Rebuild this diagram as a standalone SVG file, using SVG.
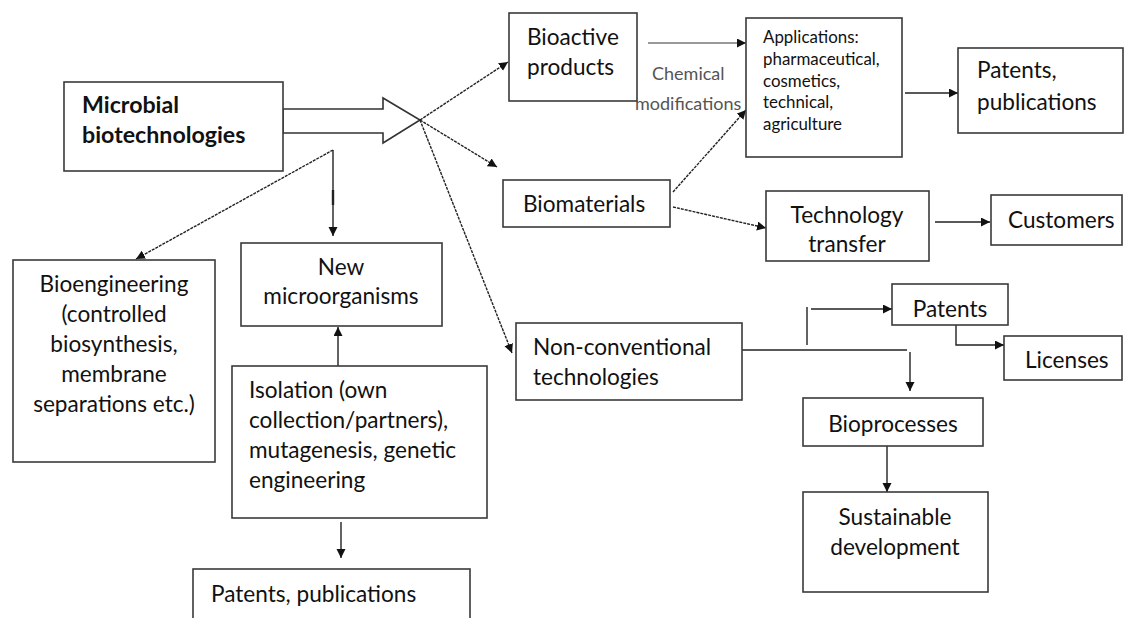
<svg xmlns="http://www.w3.org/2000/svg" width="1124" height="618" viewBox="0 0 1124 618">
  <style>
    .box { fill: #ffffff; stroke: #3a3a3a; stroke-width: 1.6; }
    .t { font-family: Lato, "Open Sans", "Liberation Sans", sans-serif; font-size: 22.6px; fill: #111; }
    .tb { font-weight: bold; font-size: 23.2px; }
    .sm { font-size: 16.9px; }
    .lab { font-size: 18px; fill: #555; }
    .c { text-anchor: middle; }
    .ln { fill: none; stroke: #222; stroke-width: 1.4; }
    .dash { stroke-dasharray: 3 1; }
    .grey { stroke: #777; }
  </style>
  <defs>
    <marker id="ah" markerUnits="userSpaceOnUse" markerWidth="10" markerHeight="10" refX="9" refY="4.5" orient="auto">
      <path d="M0,0 L9,4.5 L0,9 z" fill="#111"/>
    </marker>
  </defs>

  <!-- connectors -->
  <g id="connectors">
    <polygon points="283,109 383,109 383,98 420,120 383,143 383,133 283,133" fill="#fff" stroke="#333" stroke-width="1.6"/>
    <line class="ln dash" x1="420" y1="120" x2="508" y2="62" marker-end="url(#ah)"/>
    <line class="ln dash" x1="420" y1="120" x2="497" y2="167" marker-end="url(#ah)"/>
    <line class="ln dash" x1="420" y1="120" x2="512" y2="353" marker-end="url(#ah)"/>
    <line class="ln dash" x1="333" y1="150" x2="136" y2="259" marker-end="url(#ah)"/>
    <line class="ln" x1="333" y1="150" x2="333" y2="236" marker-end="url(#ah)"/>
    <line x1="333" y1="190" x2="333" y2="205" stroke="#222" stroke-width="2.4"/>
    <line class="ln" x1="338" y1="366" x2="338" y2="327" marker-end="url(#ah)"/>
    <line class="ln" x1="341" y1="522" x2="341" y2="558" marker-end="url(#ah)"/>
    <line class="ln grey" x1="648" y1="43" x2="746" y2="43" marker-end="url(#ah)"/>
    <line class="ln dash" x1="673" y1="192" x2="746" y2="110" marker-end="url(#ah)"/>
    <line class="ln" x1="905" y1="93" x2="958" y2="93" marker-end="url(#ah)"/>
    <line class="ln dash" x1="673" y1="207" x2="766" y2="228" marker-end="url(#ah)"/>
    <line class="ln" x1="935" y1="222" x2="990" y2="222" marker-end="url(#ah)"/>
    <line class="ln" x1="742" y1="350" x2="907" y2="350"/>
    <line class="ln" x1="910" y1="352" x2="910" y2="391" marker-end="url(#ah)"/>
    <line class="ln" x1="807" y1="345" x2="807" y2="307"/>
    <line class="ln" x1="811" y1="309" x2="892" y2="309" marker-end="url(#ah)"/>
    <polyline class="ln" points="956,325 956,345 1004,345" marker-end="url(#ah)"/>
    <line class="ln" x1="887" y1="446" x2="887" y2="492" marker-end="url(#ah)"/>
    <text class="t lab" x="652" y="80">Chemical</text>
    <text class="t lab" x="635" y="110">modifications</text>
  </g>

  <g id="microbial">
    <rect class="box" x="64" y="82" width="219" height="89"/>
    <text class="t tb" x="82" y="113">Microbial</text>
    <text class="t tb" x="82" y="143">biotechnologies</text>
  </g>

  <g id="bioactive">
    <rect class="box" x="509" y="13" width="128" height="88"/>
    <text class="t" x="527" y="45">Bioactive</text>
    <text class="t" x="527" y="75">products</text>
  </g>

  <g id="applications">
    <rect class="box" x="746" y="18" width="156" height="139"/>
    <text class="t sm" x="763" y="43">Applications:</text>
    <text class="t sm" x="763" y="65">pharmaceutical,</text>
    <text class="t sm" x="763" y="87">cosmetics,</text>
    <text class="t sm" x="763" y="108">technical,</text>
    <text class="t sm" x="763" y="130">agriculture</text>
  </g>

  <g id="patents-publications-top">
    <rect class="box" x="958" y="48" width="165" height="85"/>
    <text class="t" x="977" y="78">Patents,</text>
    <text class="t" x="977" y="110">publications</text>
  </g>

  <g id="biomaterials">
    <rect class="box" x="503" y="180" width="167" height="47"/>
    <text class="t" x="523" y="212">Biomaterials</text>
  </g>

  <g id="technology-transfer">
    <rect class="box" x="766" y="191" width="163" height="70"/>
    <text class="t c" x="847" y="223">Technology</text>
    <text class="t c" x="847" y="252">transfer</text>
  </g>

  <g id="customers">
    <rect class="box" x="991" y="195" width="131" height="50"/>
    <text class="t" x="1008" y="228">Customers</text>
  </g>

  <g id="patents">
    <rect class="box" x="892" y="284" width="116" height="41"/>
    <text class="t c" x="950" y="317">Patents</text>
  </g>

  <g id="licenses">
    <rect class="box" x="1004" y="336" width="118" height="44"/>
    <text class="t" x="1025" y="368">Licenses</text>
  </g>

  <g id="non-conventional">
    <rect class="box" x="516" y="323" width="226" height="77"/>
    <text class="t" x="533" y="355">Non-conventional</text>
    <text class="t" x="533" y="385">technologies</text>
  </g>

  <g id="bioprocesses">
    <rect class="box" x="803" y="398" width="180" height="48"/>
    <text class="t c" x="893" y="432">Bioprocesses</text>
  </g>

  <g id="sustainable">
    <rect class="box" x="803" y="492" width="185" height="100"/>
    <text class="t c" x="895" y="525">Sustainable</text>
    <text class="t c" x="895" y="555">development</text>
  </g>

  <g id="bioengineering">
    <rect class="box" x="13" y="260" width="202" height="202"/>
    <text class="t c" x="114" y="292">Bioengineering</text>
    <text class="t c" x="114" y="322">(controlled</text>
    <text class="t c" x="114" y="352">biosynthesis,</text>
    <text class="t c" x="114" y="382">membrane</text>
    <text class="t c" x="114" y="412">separations etc.)</text>
  </g>

  <g id="new-microorganisms">
    <rect class="box" x="241" y="243" width="201" height="83"/>
    <text class="t c" x="341" y="275">New</text>
    <text class="t c" x="341" y="304">microorganisms</text>
  </g>

  <g id="isolation">
    <rect class="box" x="232" y="366" width="255" height="152"/>
    <text class="t" x="249" y="398">Isolation (own</text>
    <text class="t" x="249" y="428">collection/partners),</text>
    <text class="t" x="249" y="458">mutagenesis, genetic</text>
    <text class="t" x="249" y="488">engineering</text>
  </g>

  <g id="patents-publications-bottom">
    <rect class="box" x="193" y="569" width="277" height="60"/>
    <text class="t" x="211" y="602">Patents, publications</text>
  </g>
</svg>
